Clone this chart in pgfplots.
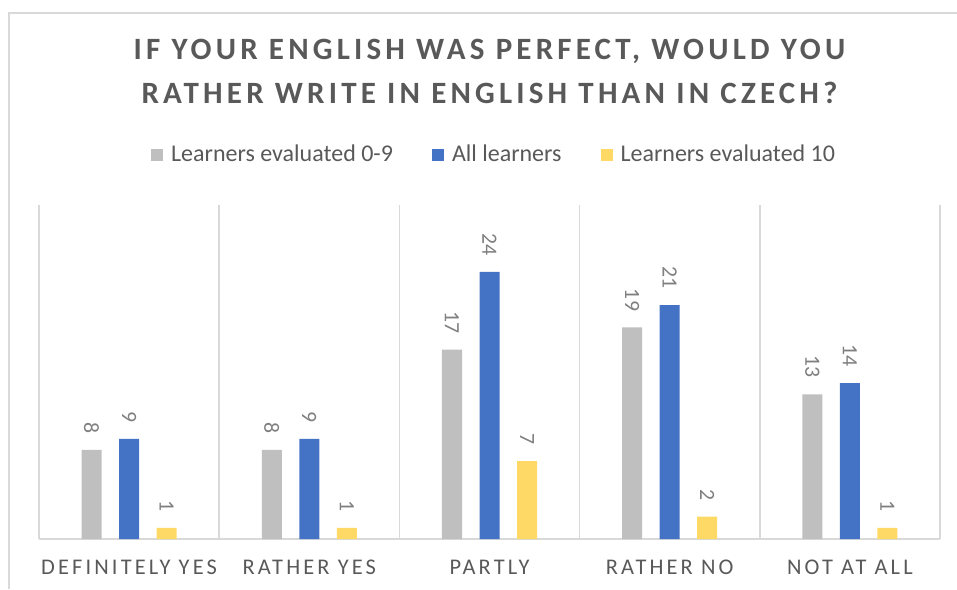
\documentclass[border=0pt]{standalone}
\usepackage{fontspec}
\setmainfont{Carlito}
\newfontfamily\titlefont[LetterSpace=13.5]{Carlito}
\newfontfamily\catfont[LetterSpace=14]{Carlito}
\usepackage{pgfplots}
\pgfplotsset{compat=1.18}
\definecolor{txtgray}{HTML}{595959}
\definecolor{lblgray}{HTML}{7F7F7F}
\definecolor{linegray}{HTML}{D9D9D9}
\definecolor{bargray}{HTML}{BFBFBF}
\definecolor{barblue}{HTML}{4472C4}
\definecolor{baryellow}{HTML}{FFD966}

\begin{document}
\begin{tikzpicture}
\path[use as bounding box] (-19.5pt,-25pt) rectangle (459pt,269.5pt);
\draw[linegray, line width=1pt] (-15pt,-25pt) -- (-15pt,263pt) -- (459pt,263pt);
\begin{axis}[
    at={(0,0)}, anchor=south west,
    scale only axis,
    width=450.5pt, height=167pt,
    ybar=8.75pt, bar width=10pt,
    xmin=-0.5, xmax=4.5, ymin=0, ymax=30,
    axis y line=none,
    axis x line*=bottom,
    x axis line style={linegray, line width=0.75pt, -},
    xtick={0,1,2,3,4},
    xticklabels={DEFINITELY YES, RATHER YES, PARTLY, RATHER NO, NOT AT ALL},
    minor xtick={-0.5,0.5,1.5,2.5,3.5,4.5},
    xminorgrids,
    minor grid style={linegray, line width=0.75pt},
    major tick length=0pt, minor tick length=0pt,
    xticklabel style={font=\catfont\fontsize{11.2}{13}\selectfont, text=txtgray, inner sep=0pt, anchor=base, yshift=-17.5pt},
    title={IF YOUR ENGLISH WAS PERFECT, WOULD YOU\\[1.5pt]RATHER WRITE IN ENGLISH THAN IN CZECH?},
    title style={font=\titlefont\bfseries\fontsize{15.5}{20.5}\selectfont, text=txtgray, align=center, at={(0.5,1)}, anchor=center, yshift=61pt},
    /pgf/number format/assume math mode=true,
    nodes near coords,
    every node near coord/.append style={font=\fontsize{10.9}{13}\selectfont, text=lblgray, inner sep=0pt, yshift=8pt, rotate=-90, anchor=east},
    legend columns=3,
    legend style={at={(0.504,1.15)}, anchor=center, draw=none, fill=none, inner sep=0pt,
        font=\fontsize{12}{14}\selectfont, text=txtgray,
        nodes={inner sep=0pt},
        /tikz/every odd column/.append style={column sep=4pt},
        /tikz/every even column/.append style={column sep=19.5pt}},
    legend image code/.code={\fill[#1] (0pt,-3pt) rectangle (6pt,3pt);},
]
\addplot[fill=bargray, draw=none] coordinates {(0,8) (1,8) (2,17) (3,19) (4,13)};
\addplot[fill=barblue, draw=none] coordinates {(0,9) (1,9) (2,24) (3,21) (4,14)};
\addplot[fill=baryellow, draw=none] coordinates {(0,1) (1,1) (2,7) (3,2) (4,1)};
\legend{Learners evaluated 0-9, All learners, Learners evaluated 10}
\end{axis}
\end{tikzpicture}
\end{document}
